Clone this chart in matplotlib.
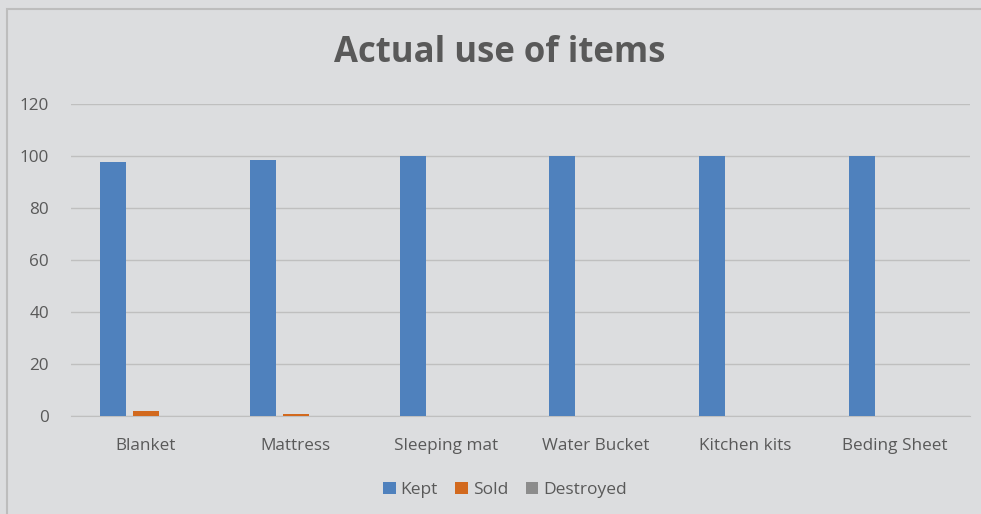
import matplotlib
matplotlib.use("Agg")
import matplotlib.pyplot as plt
import numpy as np
from matplotlib.patches import Rectangle

categories = ["Blanket", "Mattress", "Sleeping mat", "Water Bucket", "Kitchen kits", "Beding Sheet"]
kept = [97.6, 98.6, 100, 100, 100, 100]
sold = [2, 0.7, 0, 0, 0, 0]
destroyed = [0, 0, 0, 0, 0, 0]
yticks = [0, 20, 40, 60, 80, 100, 120]

plt.rcParams['font.family'] = ['Open Sans', 'DejaVu Sans']
bg = "#DCDDDF"
txt = "#595959"

W, H = 981, 514
fig = plt.figure(figsize=(W/100, H/100), dpi=100, facecolor=bg)
ax = fig.add_axes([71/W, 1-416/H, (970-71)/W, (416-104)/H])
ax.set_facecolor(bg)

x = np.arange(len(categories))
bw = 0.173
off = 0.22
ax.bar(x - off, kept, bw, color="#4F81BD", label="Kept", zorder=3)
ax.bar(x, sold, bw, color="#D2691E", label="Sold", zorder=3)
ax.bar(x + off, destroyed, bw, color="#8C8C8C", label="Destroyed", zorder=3)

ax.set_xlim(-0.5, len(categories) - 0.5)
ax.set_ylim(0, 120)
ax.set_yticks(yticks)
ax.set_xticks(x)
ax.set_xticklabels(categories)
ax.grid(axis="y", color="#BFBFBF", linewidth=1, zorder=0)
for s in ["top", "right", "left"]:
    ax.spines[s].set_visible(False)
ax.spines["bottom"].set_color("#BFBFBF")
ax.tick_params(axis="both", length=0, labelsize=12.3, colors=txt)
ax.tick_params(axis="y", pad=16)
ax.tick_params(axis="x", pad=16)

fig.text(500/W, 1-53/H, "Actual use of items", ha="center", va="center",
         fontsize=25, fontweight="bold", color=txt)

leg = fig.legend(loc="center", bbox_to_anchor=(505/W, 1-490/H), ncol=3,
                 frameon=False, fontsize=12.5, handlelength=0.7, handleheight=0.7,
                 handletextpad=0.3, columnspacing=1.0)
for t in leg.get_texts():
    t.set_color(txt)

fig.patches.append(Rectangle((7/W, -0.1), 1.1, 1-9/H+0.1, transform=fig.transFigure,
                             fill=False, edgecolor="#BDBDBD", linewidth=1.5, zorder=0))

fig.savefig("out.png", dpi=100, facecolor=bg)
